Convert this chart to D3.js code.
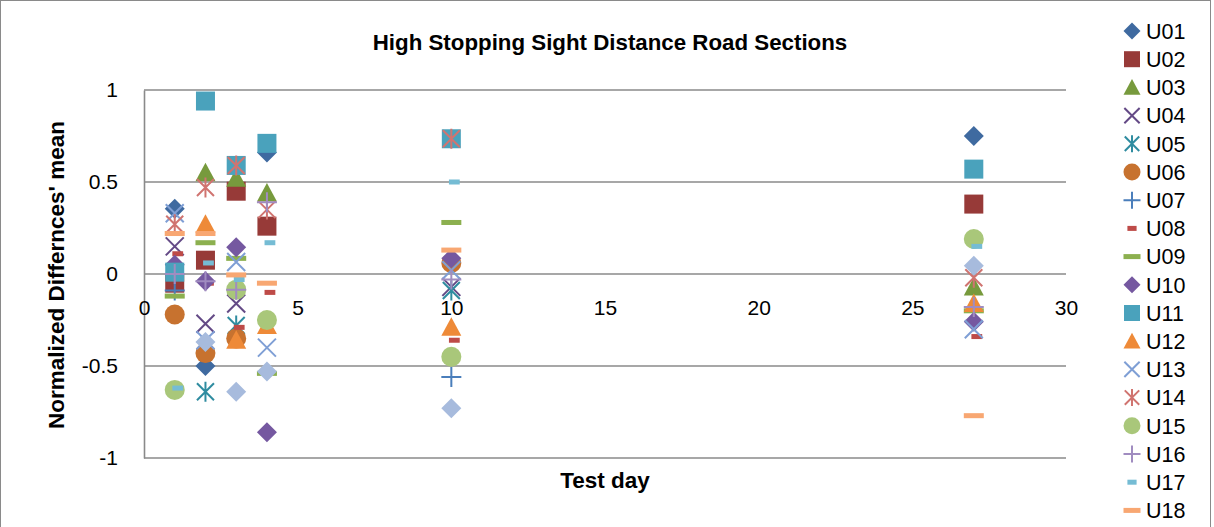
<!DOCTYPE html>
<html><head><meta charset="utf-8">
<script src="https://cdn.jsdelivr.net/npm/d3@7"></script>
<style>
html,body{margin:0;padding:0;background:#fff;}
svg{display:block;font-family:"Liberation Sans",Arial,sans-serif;}
</style></head>
<body>
<svg id="chart" width="1214" height="527"></svg>
<script>
// ---- data ----
const days = [1, 2, 3, 4, 10, 27];
const seriesNames = ["U01","U02","U03","U04","U05","U06","U07","U08","U09","U10","U11","U12","U13","U14","U15","U16","U17","U18","U19"];
const U01 = [0.355, -0.50, null, 0.66, null, 0.75];
const U02 = [-0.05, 0.075, 0.45, 0.26, null, 0.38];
const U03 = [null, 0.55, 0.52, 0.44, null, -0.07];
const U04 = [0.15, -0.27, -0.16, null, -0.07, null];
const U05 = [null, -0.64, -0.28, null, -0.09, null];
const U06 = [-0.22, -0.43, -0.35, null, 0.06, null];
const U07 = [-0.09, null, null, null, -0.56, null];
const U08 = [0.11, -0.05, -0.29, -0.10, -0.36, -0.34];
const U09 = [-0.12, 0.17, 0.085, -0.54, 0.28, -0.20];
const U10 = [0.05, -0.04, 0.145, -0.86, 0.085, -0.26];
const U11 = [0.01, 0.94, 0.59, 0.71, 0.735, 0.57];
const U12 = [null, 0.27, -0.36, -0.28, -0.29, -0.16];
const U13 = [0.33, -0.36, 0.065, -0.40, 0.02, -0.30];
const U14 = [0.27, 0.47, 0.59, 0.35, 0.735, -0.02];
const U15 = [-0.63, null, -0.085, -0.25, -0.45, 0.19];
const U16 = [0.0, -0.04, -0.085, 0.39, -0.03, -0.18];
const U17 = [-0.62, 0.06, -0.03, 0.17, 0.50, 0.15];
const U18 = [0.22, 0.22, -0.005, -0.05, 0.13, -0.77];
const U19 = [null, -0.37, -0.64, -0.53, -0.73, 0.045];
const seriesValues = [U01,U02,U03,U04,U05,U06,U07,U08,U09,U10,U11,U12,U13,U14,U15,U16,U17,U18,U19];
const markerTypes = ["diamond","square","triangle","x","star","circle","plus","shortdash","longdash","diamond","square","triangle","x","star","circle","plus","shortdash","longdash","diamond"];
const colors = ["#3F6AA0","#973A38","#779A3D","#644A86","#2F8CA0","#C7722F","#4A7EBB","#BE4B48","#8CB04F","#7558A0","#4AA2BC","#EE8A38","#7F9FD5","#D07470","#A9C77A","#A08CC0","#75BCD4","#F8A772","#A7BBDD"];
const legendCount = 18; // the legend is cut by the chart frame after U18
const xTicks = [0, 5, 10, 15, 20, 25, 30];
const yTicks = [-1, -0.5, 0, 0.5, 1];
const title = "High Stopping Sight Distance Road Sections";
const xTitle = "Test day";
const yTitle = "Normalized Differnces' mean";

// ---- drawing ----
const svg = d3.select("#chart");
const x = d3.scaleLinear().domain([0, 30]).range([144, 1066]);
const y = d3.scaleLinear().domain([-1, 1]).range([458, 90]);
const gridColor = "#8A8A8A";

svg.append("rect").attr("x", 0.5).attr("y", 0.5).attr("width", 1210).attr("height", 560)
  .attr("fill", "#fff").attr("stroke", "#8A8A8A").attr("stroke-width", 1);

// gridlines
svg.append("g").selectAll("line").data(yTicks).join("line")
  .attr("x1", x(0)).attr("x2", x(30))
  .attr("y1", d => y(d)).attr("y2", d => y(d))
  .attr("stroke", gridColor).attr("stroke-width", 1.6);

// y axis
const yAxis = d3.axisLeft(y).tickValues(yTicks).tickSize(0).tickPadding(26)
  .tickFormat(d => String(d));
const gy = svg.append("g").attr("transform", `translate(${x(0)},0)`).call(yAxis);
gy.select(".domain").attr("stroke", gridColor).attr("stroke-width", 1.6);
gy.selectAll("text").attr("font-size", 21).attr("fill", "#000")
  .attr("font-family", "'Liberation Sans', Arial, sans-serif");

// x axis at y = 0
const xAxis = d3.axisBottom(x).tickValues(xTicks).tickSize(0).tickPadding(26)
  .tickFormat(d => String(d));
const gx = svg.append("g").attr("transform", `translate(0,${y(0)})`).call(xAxis);
gx.select(".domain").remove();
gx.selectAll("text").attr("font-size", 21).attr("fill", "#000")
  .attr("font-family", "'Liberation Sans', Arial, sans-serif");

// titles
svg.append("text").attr("x", 610).attr("y", 50).attr("text-anchor", "middle")
  .attr("font-size", 22.3).attr("font-weight", "bold").text(title);
svg.append("text").attr("x", 605).attr("y", 488).attr("text-anchor", "middle")
  .attr("font-size", 22.5).attr("font-weight", "bold").text(xTitle);
svg.append("text").attr("transform", "translate(64,275) rotate(-90)").attr("text-anchor", "middle")
  .attr("font-size", 22.5).attr("font-weight", "bold").text(yTitle);

// marker drawing
function drawMarker(g, type, color, s) {
  const h = s / 2;
  switch (type) {
    case "diamond":
      g.append("path").attr("d", `M0,${-h}L${h},0L0,${h}L${-h},0Z`).attr("fill", color);
      break;
    case "square":
      g.append("rect").attr("x", -h + 0.5).attr("y", -h + 0.5).attr("width", s - 1).attr("height", s - 1).attr("fill", color);
      break;
    case "triangle":
      g.append("path").attr("d", `M0,${-h}L${h},${h * 0.85}L${-h},${h * 0.85}Z`).attr("fill", color);
      break;
    case "circle":
      g.append("circle").attr("r", h).attr("fill", color);
      break;
    case "x": {
      const a = h * 0.9;
      g.append("path").attr("d", `M${-a},${-a}L${a},${a}M${a},${-a}L${-a},${a}`)
        .attr("stroke", color).attr("stroke-width", 2).attr("fill", "none");
      break;
    }
    case "star": {
      const a = h * 0.85;
      g.append("path").attr("d", `M${-a},${-a}L${a},${a}M${a},${-a}L${-a},${a}M0,${-h}L0,${h}`)
        .attr("stroke", color).attr("stroke-width", 2).attr("fill", "none");
      break;
    }
    case "plus":
      g.append("path").attr("d", `M${-h},0L${h},0M0,${-h}L0,${h}`)
        .attr("stroke", color).attr("stroke-width", 2).attr("fill", "none");
      break;
    case "shortdash":
      g.append("rect").attr("x", -s * 0.27).attr("y", -2.5).attr("width", s * 0.54).attr("height", 5).attr("fill", color);
      break;
    case "longdash":
      g.append("rect").attr("x", -h).attr("y", -2.5).attr("width", s).attr("height", 5).attr("fill", color);
      break;
  }
}

// points
const pts = svg.append("g");
seriesValues.forEach((vals, si) => {
  vals.forEach((v, i) => {
    if (v === null) return;
    const off = (markerTypes[si] === "shortdash") ? 3 : 0;
    const g = pts.append("g").attr("transform", `translate(${x(days[i]) + off},${y(v)})`);
    drawMarker(g, markerTypes[si], colors[si], 20);
  });
});

// legend
const leg = svg.append("g");
seriesNames.slice(0, legendCount).forEach((name, si) => {
  const cy = 31 + si * 28.2;
  const g = leg.append("g").attr("transform", `translate(1132,${cy})`);
  drawMarker(g, markerTypes[si], colors[si], 17);
  leg.append("text").attr("x", 1146).attr("y", cy).attr("dy", "0.36em")
    .attr("font-size", 21.5).attr("fill", "#000").text(name);
});
</script>
</body></html>
